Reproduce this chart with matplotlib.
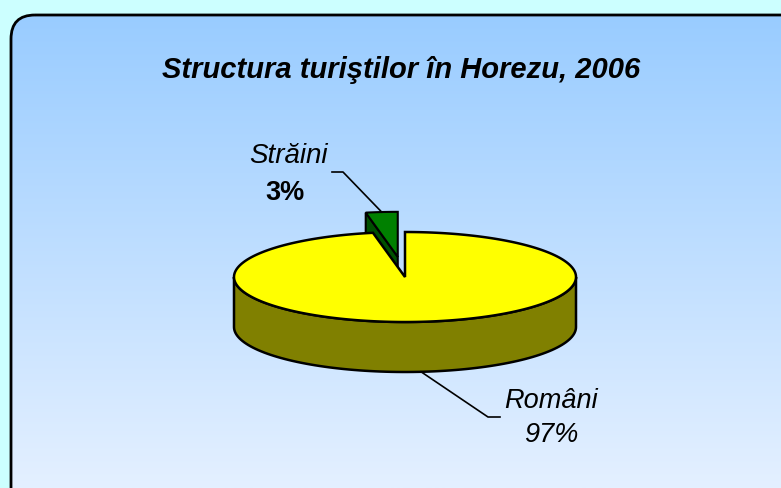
import numpy as np
import matplotlib.pyplot as plt
from matplotlib.patches import FancyBboxPatch, Polygon
from matplotlib.colors import LinearSegmentedColormap

# data
labels = ['Străini', 'Români']
values = [3, 97]
top_colors = ['#008000', '#FFFF00']
side_colors = ['#005000', '#808000']
title = 'Structura turiştilor în Horezu, 2006'

W, H = 781, 488
fig = plt.figure(figsize=(W / 100, H / 100), dpi=100, facecolor='#CCFFFF')
ax = fig.add_axes([0, 0, 1, 1])
ax.set_xlim(0, W)
ax.set_ylim(H, 0)
ax.axis('off')

# rounded panel with vertical gradient
panel = FancyBboxPatch((11, 15), 820, 520, boxstyle='round,pad=0,rounding_size=24',
                       facecolor='none', edgecolor='black', lw=2, zorder=1)
ax.add_patch(panel)
cmap = LinearSegmentedColormap.from_list('bg', ['#99CCFF', '#E4F0FF'])
grad = np.linspace(0, 1, 256).reshape(-1, 1)
im = ax.imshow(grad, cmap=cmap, extent=[11, 831, H, 15], aspect='auto', zorder=0)
im.set_clip_path(panel)

fs = {'family': ['Liberation Sans', 'DejaVu Sans']}
ax.text(401, 78, title, ha='center', va='baseline', fontsize=21, fontweight='bold',
        fontstyle='italic', zorder=10, **fs)

# 3d pie geometry
cx, cy, rx, ry, depth = 405, 277, 171, 45, 50
explode = [0.45, 0]


def pt(ang, ox=0, oy=0, dz=0):
    a = np.radians(ang)
    return np.column_stack([ox + rx * np.cos(a), oy - ry * np.sin(a) + dz])


frac = np.array(values) / sum(values)
starts = 90 + np.concatenate([[0], np.cumsum(frac)[:-1]]) * 360
ends = starts + frac * 360

# green slice (exploded), drawn first
a0, a1 = starts[0], ends[0]
mid = (a0 + a1) / 2
ox = cx + explode[0] * rx * np.cos(np.radians(mid))
oy = cy - explode[0] * ry * np.sin(np.radians(mid))
p1 = pt(a1, ox, oy)[0]
side = np.array([[ox, oy], p1, p1 + [0, depth], [ox, oy + depth]])
ax.add_patch(Polygon(side, closed=True, facecolor=side_colors[0], edgecolor='black', lw=1.5, zorder=2))
arc = pt(np.linspace(a0, a1, 20), ox, oy)
ax.add_patch(Polygon(np.vstack([[ox, oy], arc]), closed=True, facecolor=top_colors[0],
                     edgecolor='black', lw=1.5, zorder=3))
green_mid = pt(mid, ox, oy)[0]

# yellow slice
b0, b1 = starts[1], ends[1]
front = np.linspace(180, 360, 100)
topedge = pt(front, cx, cy)
botedge = pt(front[::-1], cx, cy, depth)
ax.add_patch(Polygon(np.vstack([topedge, botedge]), closed=True, facecolor=side_colors[1],
                     edgecolor='black', lw=1.8, zorder=4))
arc = pt(np.linspace(b0, b1, 300), cx, cy)
ax.add_patch(Polygon(np.vstack([[cx, cy], arc]), closed=True, facecolor=top_colors[1],
                     edgecolor='black', lw=1.8, zorder=5))
ymid = (b0 + b1) / 2
yellow_mid = pt(ymid, cx, cy, depth)[0]

# labels with leader lines
ax.plot([332, 343, green_mid[0]], [172, 172, green_mid[1]], color='black', lw=1.2, zorder=6)
ax.text(288, 163, labels[0], ha='center', va='baseline', fontsize=20, fontstyle='italic', zorder=10, **fs)
ax.text(285, 200, f'{values[0]}%', ha='center', va='baseline', fontsize=19.5, fontweight='bold', zorder=10, **fs)

ax.plot([yellow_mid[0], 488, 500], [yellow_mid[1], 417, 417], color='black', lw=1.2, zorder=6)
ax.text(551, 408, labels[1], ha='center', va='baseline', fontsize=19.5, fontstyle='italic', zorder=10, **fs)
ax.text(551, 442, f'{values[1]}%', ha='center', va='baseline', fontsize=19.5, fontstyle='italic', zorder=10, **fs)

fig.savefig('out.png', dpi=100, facecolor=fig.get_facecolor())
